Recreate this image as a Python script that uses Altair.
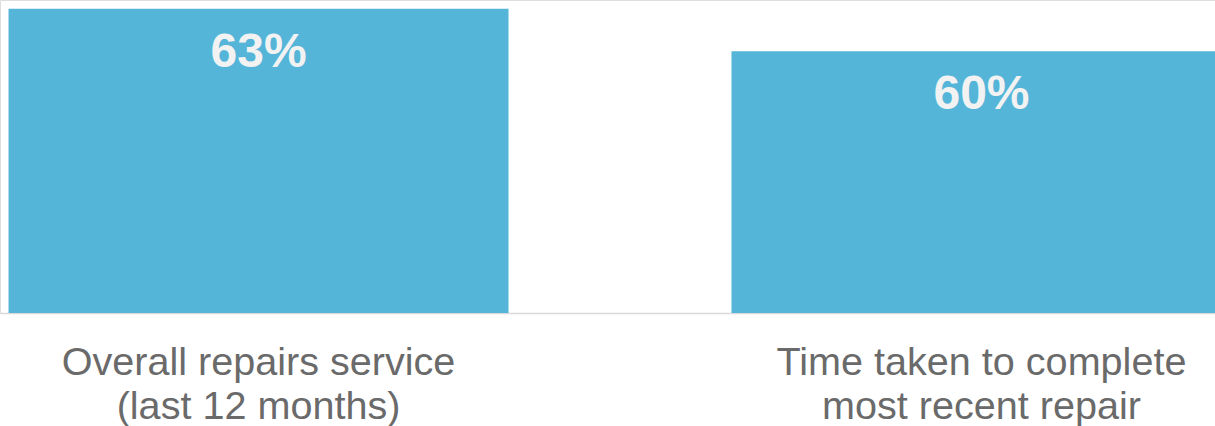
import altair as alt
import pandas as pd

categories = ["Overall repairs service|(last 12 months)", "Time taken to complete|most recent repair"]
values = [63, 60]
labels = ["63%", "60%"]

Y_MIN, Y_MAX = 41.57, 63.61

df = pd.DataFrame({"cat": categories, "val": values, "lab": labels})

x = alt.X(
    "cat:N",
    sort=categories,
    title=None,
    scale=alt.Scale(range=[0, 1240], paddingInner=0.3084, paddingOuter=0.0118),
    axis=alt.Axis(
        labelExpr="split(datum.label, '|')",
        labelAngle=0,
        labelFont="Liberation Sans",
        labelFontSize=39.6,
        labelLineHeight=44,
        labelColor="#6a6a6a",
        labelPadding=30,
        ticks=False,
        domainColor="#d9d9d9",
        domainWidth=1.5,
        labelLimit=0,
    ),
)

y_scale = alt.Scale(domain=[Y_MIN, Y_MAX], zero=False, nice=False)

bars = alt.Chart(df).mark_bar(color="#54b5d9").encode(
    x=x,
    y=alt.Y("val:Q", scale=y_scale, axis=None),
    y2=alt.datum(Y_MIN),
)

text = alt.Chart(df).mark_text(
    font="Liberation Sans",
    fontSize=48,
    fontWeight="bold",
    color="#f2f2f2",
    baseline="alphabetic",
    align="center",
    dy=58,
).encode(
    x=alt.X("cat:N", sort=categories),
    y=alt.Y("val:Q", scale=y_scale, axis=None),
    text="lab:N",
)

chart = (
    alt.layer(bars, text)
    .properties(
        width=1215,
        height=313,
        autosize=alt.AutoSizeParams(type="none"),
        padding={"left": 0, "right": 0, "top": 0, "bottom": 113},
    )
    .configure_view(stroke=None)
    .configure(background="white")
)

chart.save("out.html", embed_options={"renderer": "svg", "actions": False})
